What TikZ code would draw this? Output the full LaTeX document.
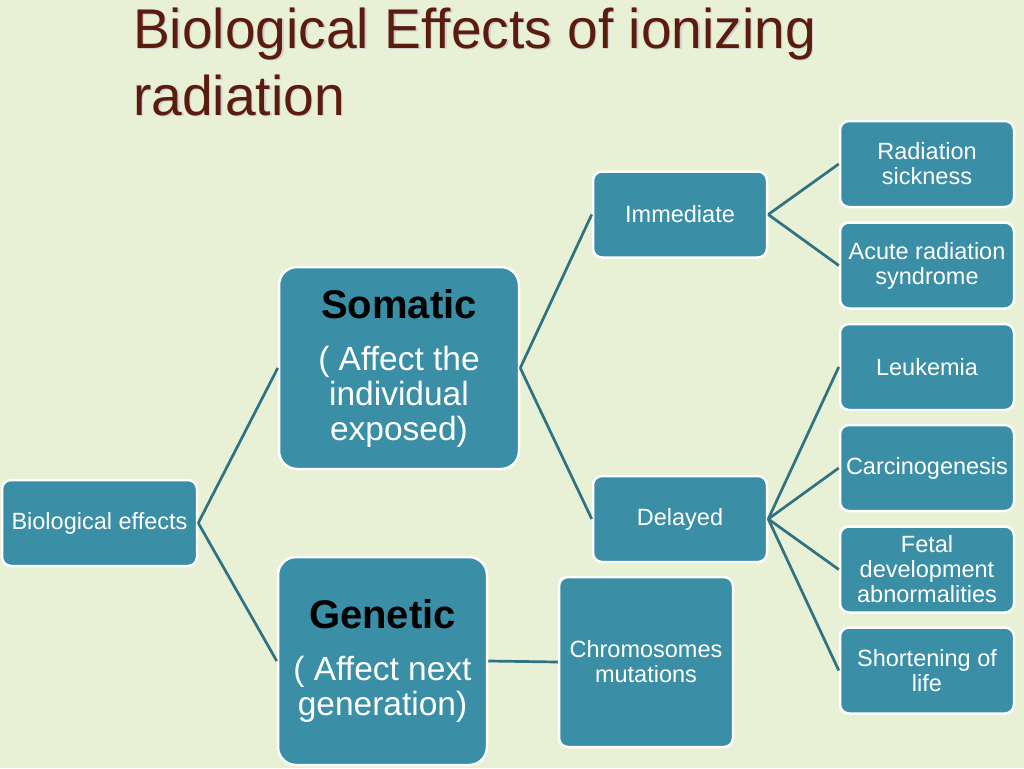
\documentclass[tikz,border=0pt]{standalone}
\usepackage{fontspec}
\setmainfont{Liberation Sans}
\newfontfamily\titlefont{Liberation Sans}[FakeStretch=0.985]
\definecolor{bgcol}{HTML}{E8F0D5}
\definecolor{boxfill}{HTML}{3A8FA7}
\definecolor{linecol}{HTML}{2F7282}
\definecolor{titlecol}{HTML}{5A1C0E}
\begin{document}
\begin{tikzpicture}[x=1pt,y=-1pt,
  box/.style={fill=boxfill, draw=white, line width=2.5pt, rounded corners=9pt,
    text=white, align=center, inner sep=0pt,
    font=\fontsize{23.5}{25}\selectfont,
    minimum width=174pt, minimum height=86pt},
  bigbox/.style={box, rounded corners=18pt, font=\fontsize{33.5}{35}\selectfont},
  link/.style={draw=linecol, line width=2.7pt},
  titletext/.style={anchor=base west, inner sep=0pt, align=left,
    font=\titlefont\fontsize{56}{67}\selectfont}]
\fill[bgcol] (0,0) rectangle (1024,768);
\useasboundingbox (0,0) rectangle (1024,768);
% title
\node[titletext, text=black!18] (titleshadow) at (134.5,116.5)
  {Biological Effects of ionizing\\radiation};
\node[titletext, text=titlecol] (title) at (133,115)
  {Biological Effects of ionizing\\radiation};
% nodes
\node[box, minimum width=195pt] (bio) at (99.5,523) {Biological effects};
\node[bigbox, minimum width=240pt, minimum height=202pt] (som) at (399,368)
  {{\fontsize{40}{44}\selectfont\bfseries\color{black}Somatic}\\[17pt]( Affect the\\individual\\exposed)};
\node[bigbox, minimum width=209pt, minimum height=208pt] (gen) at (382.5,661)
  {{\fontsize{40}{44}\selectfont\bfseries\color{black}Genetic}\\[17pt]( Affect next\\generation)};
\node[box, minimum height=170pt] (chr) at (646,662) {Chromosomes\\mutations};
\node[box] (imm) at (680,214.5) {Immediate};
\node[box] (del) at (680,519) {Delayed};
\node[box] (rs)  at (927,164)   {Radiation\\sickness};
\node[box] (ars) at (927,265.5) {Acute radiation\\syndrome};
\node[box] (leu) at (927,367)   {Leukemia};
\node[box] (car) at (927,468)   {Carcinogenesis};
\node[box] (fet) at (927,569.5) {Fetal\\development\\abnormalities};
\node[box] (sho) at (927,670.5) {Shortening of\\life};
% connectors
\draw[link] (bio.east) -- (som.west);
\draw[link] (bio.east) -- (gen.west);
\draw[link] (som.east) -- (imm.west);
\draw[link] (som.east) -- (del.west);
\draw[link] (gen.east) -- (chr.west);
\draw[link] (imm.east) -- (rs.west);
\draw[link] (imm.east) -- (ars.west);
\draw[link] (del.east) -- (leu.west);
\draw[link] (del.east) -- (car.west);
\draw[link] (del.east) -- (fet.west);
\draw[link] (del.east) -- (sho.west);
\end{tikzpicture}
\end{document}
